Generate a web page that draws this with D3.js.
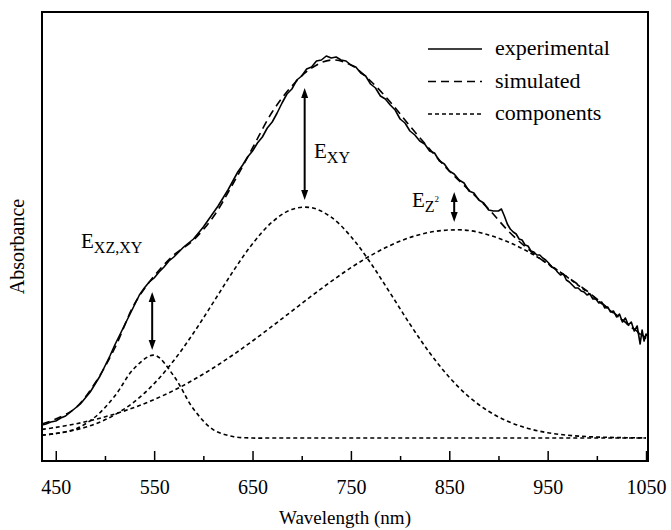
<!DOCTYPE html>
<html><head><meta charset="utf-8">
<script src="https://cdn.jsdelivr.net/npm/d3@7"></script>
<style>
body{margin:0;background:#fff}
svg{display:block}
svg text{font-family:"Liberation Serif",Tinos,"Times New Roman",Times,"DejaVu Serif","Noto Serif",serif !important;fill:#000}
</style>
</head><body>
<svg id="chart" width="671" height="530"></svg>
<script>
// ---- data (arbitrary absorbance units, component baseline = 0) ----
const compWavelength = [436,450,470,490,510,530,550,570,590,610,630,650,670,690,710,730,750,770,790,810,830,850,870,890,910,930,950,970,990,1010,1030,1050];
const component1 = [3,4.5,9,21,42,70,82.8,62,29,8.4,1.5,0,0,0,0,0,0,0,0,0,0,0,0,0,0,0,0,0,0,0,0,0];
const component2 = [2.8,4.4,8.1,14,23.2,36.4,54.4,77.5,105,135.4,166.3,194.2,216,228.6,230.3,220.8,201.5,175.1,144.8,113.9,85.3,60.8,41.2,26.7,16.4,9.6,5.3,2.8,1.4,0.7,0.3,0.1];
const component3 = [8.6,10.6,14.1,18.6,24,30.6,38.5,47.6,58.2,70,83,97,111.8,126.9,142,156.6,170.3,182.4,192.6,200.5,205.7,208,207.5,203,196,186.4,174.5,160.8,146,130.3,114.6,99.3];
const simulated = [14,19,30,55,90,134,162,183,198,221,254,290,326,352,370,378,373,357,336,312,289,267,248,229,207,189,174,161,147,131,115,100];

const expWavelength = [436,440,445,450,455,460,465,470,475,480,485,490,495,500,505,510,515,520,525,530,535,540,545,550,555,560,565,570,575,580,585,590,595,600,605,610,615,620,625,630,635,640,645,650,655,660,665,670,675,680,685,690,695,700,705,710,715,720,725,730,735,740,745,750,755,760,765,770,775,780,785,790,795,800,805,810,815,820,825,830,835,840,845,850,855,860,865,870,875,880,885,890,895,900,903,906,909,912,915,918,921,924,927,930,933,936,939,942,945,948,951,954,957,960,963,966,969,972,975,978,981,984,987,990,993,996,999,1002,1005,1008,1011,1014,1017,1020,1023,1026,1029,1032,1035,1038,1041,1044,1046,1048,1050,1052];
const experimental = [13,14,16,17,20,22,26,30,34,40,46,54,62,72,82,93,103,113,123,133,143,150,156,160,166,171,177,181,186,191,195,199,205,211,218,225,232,240,248,257,266,273,281,287,295,301,310,316,325,335,344,349,358,362,369,371,377,378,382,380,381,378,377,373,371,365,362,354,350,342,339,333,328,319,315,307,303,297,294,287,285,277,274,267,264,258,255,247,245,238,235,228,227,227,229,222,214,209,206,204,199,198,193,192,187,186,183,183,180,178,175,171,170,166,163,164,158,156,153,150,150,147,146,143,144,139,139,135,136,130,131,126,127,121,124,116,120,113,116,107,112,94,108,97,104,101];

const xTicks = [450,550,650,750,850,950,1050];
const xMinorTicks = [500,600,700,800,900,1000];
const legendLabels = ["experimental","simulated","components"];
const xTitle = "Wavelength (nm)";
const yTitle = "Absorbance";

// annotation arrows: wavelength, from, to (absorbance units)
const arrowWavelength = [548,703,855];
const arrowFrom = [146,350,246];
const arrowTo = [88,238,216];

// ---- layout ----
const FONT = '"Liberation Serif",Tinos,"Times New Roman",Times,"DejaVu Serif",serif';
const svg = d3.select("#chart");
const L = 42, R = 648, T = 12, B = 461;
const x = d3.scaleLinear().domain([436,1052]).range([L,R]);
const y = d3.scaleLinear().domain([-23,426]).range([B,T]);

const dashSim = "8,5", dashComp = "4,3";

// curves
const smooth = d3.line().x(d=>x(d[0])).y(d=>y(d[1])).curve(d3.curveCatmullRom);
const zipC = arr => compWavelength.map((w,i)=>[w,arr[i]]);
[component1,component2,component3].forEach(c=>{
  svg.append("path").attr("d",smooth(zipC(c))).attr("fill","none")
    .attr("stroke","#000").attr("stroke-width",1.6).attr("stroke-dasharray",dashComp);
});
svg.append("path").attr("d",smooth(zipC(simulated))).attr("fill","none")
  .attr("stroke","#000").attr("stroke-width",1.6).attr("stroke-dasharray",dashSim);
const rough = d3.line().x(d=>x(d[0])).y(d=>y(d[1])).curve(d3.curveLinear);
svg.append("path").attr("d",rough(expWavelength.map((w,i)=>[w,experimental[i]]))).attr("fill","none")
  .attr("stroke","#000").attr("stroke-width",1.6).attr("stroke-linejoin","round");

// frame
svg.append("rect").attr("x",L).attr("y",T).attr("width",R-L).attr("height",B-T)
  .attr("fill","none").attr("stroke","#000").attr("stroke-width",2);

// x axis
const ax = svg.append("g").attr("transform",`translate(0,${B})`)
  .call(d3.axisBottom(x).tickValues(xTicks).tickSizeInner(-10).tickSizeOuter(0).tickPadding(19).tickFormat(d3.format("d")));
ax.attr("font-family",FONT);
ax.select(".domain").remove();
ax.selectAll("line").attr("stroke","#000").attr("stroke-width",1.5);
ax.selectAll("text").attr("font-size",20).attr("font-family",FONT);
const axm = svg.append("g").attr("transform",`translate(0,${B})`)
  .call(d3.axisBottom(x).tickValues(xMinorTicks).tickSizeInner(-5).tickSizeOuter(0).tickFormat(""));
axm.select(".domain").remove();
axm.selectAll("line").attr("stroke","#000").attr("stroke-width",1.5);

// axis titles
svg.append("text").attr("x",(L+R)/2).attr("y",524).attr("text-anchor","middle").attr("font-size",19).attr("font-family",FONT).text(xTitle);
svg.append("text").attr("transform",`translate(24,${(T+B)/2+10}) rotate(-90)`).attr("text-anchor","middle").attr("font-size",20).attr("font-family",FONT).text(yTitle);

// legend
const lg = svg.append("g");
const dashes = [null,dashSim,dashComp];
legendLabels.forEach((lab,i)=>{
  const yy = 49 + i*32.5;
  lg.append("line").attr("x1",428).attr("x2",482).attr("y1",yy).attr("y2",yy)
    .attr("stroke","#000").attr("stroke-width",1.6).attr("stroke-dasharray",dashes[i]);
  lg.append("text").attr("x",495).attr("y",yy+6).attr("font-size",22).attr("font-family",FONT).text(lab);
});

// arrows
arrowWavelength.forEach((w,i)=>{
  const ax0 = x(w), y1 = y(arrowFrom[i]), y2 = y(arrowTo[i]);
  const h = 10, hw = 3.5;
  svg.append("line").attr("x1",ax0).attr("x2",ax0).attr("y1",y1+h-2).attr("y2",y2-h+2)
    .attr("stroke","#000").attr("stroke-width",2);
  svg.append("path").attr("d",`M${ax0},${y1}L${ax0-hw},${y1+h}L${ax0+hw},${y1+h}Z`).attr("fill","#000");
  svg.append("path").attr("d",`M${ax0},${y2}L${ax0-hw},${y2-h}L${ax0+hw},${y2-h}Z`).attr("fill","#000");
});

// labels E
function eLabel(px,py,sub,sup){
  const t = svg.append("text").attr("x",px).attr("y",py).attr("font-size",21).attr("font-family",FONT);
  t.append("tspan").text("E");
  t.append("tspan").attr("font-size",16).attr("dy",5).text(sub);
  if(sup){ t.append("tspan").attr("font-size",9).attr("dy",-10).text(sup); }
}
eLabel(81,248,"XZ,XY");
eLabel(314,158,"XY");
eLabel(412,207,"Z","2");
</script>
</body></html>
